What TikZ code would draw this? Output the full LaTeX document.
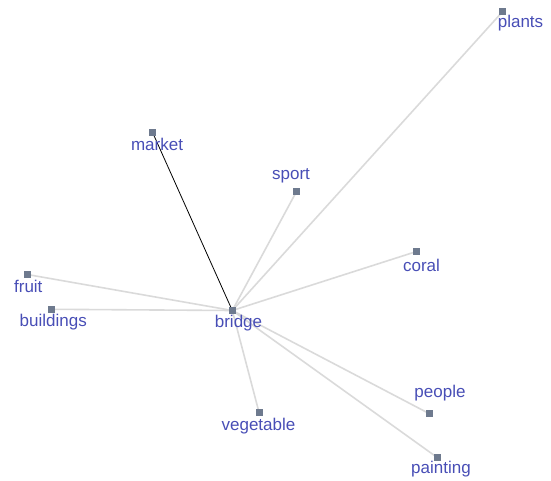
\documentclass[tikz,border=0pt]{standalone}
\usepackage{fontspec}
\setmainfont{Liberation Sans}
\usetikzlibrary{backgrounds}
\definecolor{sq}{RGB}{110,122,142}
\definecolor{lbl}{RGB}{72,78,182}
\definecolor{edge}{RGB}{218,218,218}
\tikzset{
  pt/.style={rectangle, fill=sq, minimum size=7pt, inner sep=0pt},
  lab/.style={text=lbl, font=\fontsize{17}{19}\selectfont, inner sep=0pt},
  link/.style={draw=edge, line width=1.6pt},
  hot/.style={draw=black, line width=0.8pt}
}
\begin{document}
\begin{tikzpicture}[x=1pt,y=-1pt]
\useasboundingbox (0,0) rectangle (551,481);
\node[pt] (bridge) at (232.3,310.5) {};
\node[pt] (plants) at (502.5,11.7) {};
\node[pt] (market) at (152.7,132.7) {};
\node[pt] (sport) at (296.5,191.5) {};
\node[pt] (coral) at (416.5,251.5) {};
\node[pt] (fruit) at (27.3,274.5) {};
\node[pt] (buildings) at (51.7,309.3) {};
\node[pt] (people) at (429,413.5) {};
\node[pt] (vegetable) at (259,412.3) {};
\node[pt] (painting) at (437.5,457.7) {};
\node[lab] (lbridge) at (238.5,323.5) {bridge};
\node[lab] (lplants) at (520.5,23.2) {plants};
\node[lab] (lmarket) at (157,144.5) {market};
\node[lab] (lsport) at (291,176) {sport};
\node[lab] (lcoral) at (421.5,265) {coral};
\node[lab] (lfruit) at (28.3,286.2) {fruit};
\node[lab] (lbuildings) at (53.3,322.5) {buildings};
\node[lab] (lpeople) at (440,393.2) {people};
\node[lab] (lvegetable) at (258.5,426.2) {vegetable};
\node[lab] (lpainting) at (441,469.5) {painting};
\begin{scope}[on background layer]
\draw[link] (bridge.center) -- (plants.center);
\draw[link] (bridge.center) -- (sport.center);
\draw[link] (bridge.center) -- (coral.center);
\draw[link] (bridge.center) -- (fruit.center);
\draw[link] (bridge.center) -- (buildings.center);
\draw[link] (bridge.center) -- (people.center);
\draw[link] (bridge.center) -- (vegetable.center);
\draw[link] (bridge.center) -- (painting.center);
\draw[hot] (bridge.center) -- (market.center);
\end{scope}
\end{tikzpicture}
\end{document}
